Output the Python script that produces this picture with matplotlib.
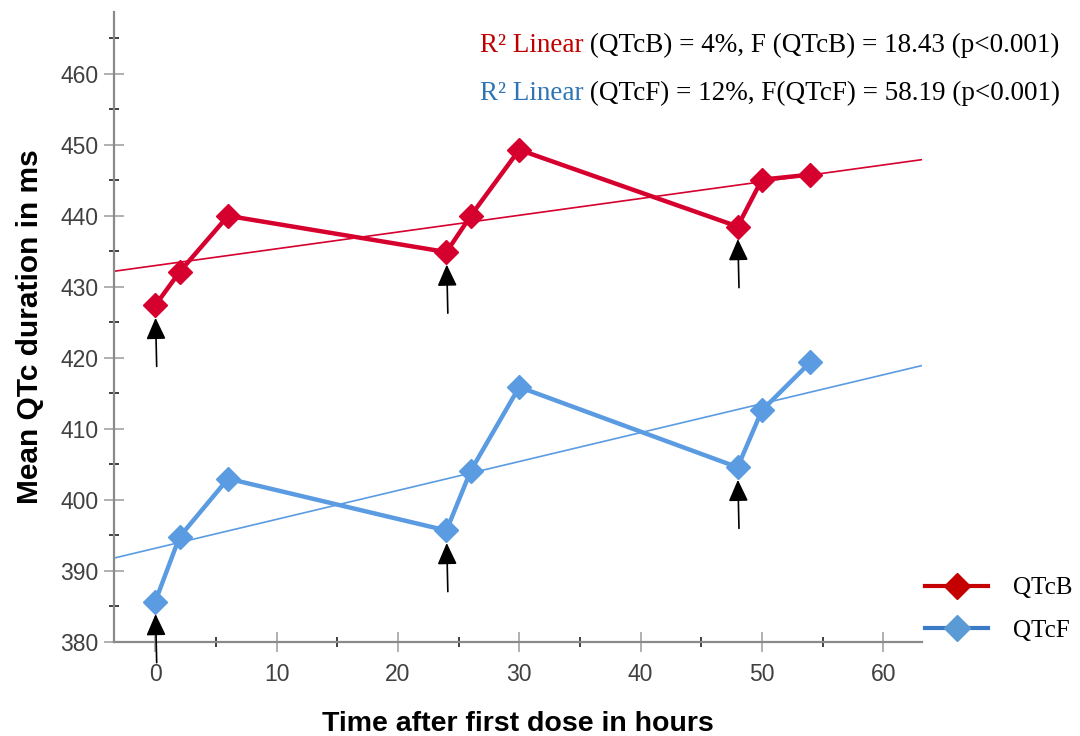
import matplotlib.pyplot as plt
from matplotlib.lines import Line2D
from matplotlib.ticker import MultipleLocator

# data
hours = [0, 2, 6, 24, 26, 30, 48, 50, 54]
qtcb = [427.4, 432.1, 440.0, 434.9, 440.0, 449.3, 438.5, 445.1, 445.8]
qtcf = [385.7, 394.8, 403.0, 395.7, 404.1, 415.9, 404.6, 412.6, 419.4]

# linear fit lines (intercept, slope)
fit_b = (433.0, 0.236)
fit_f = (393.2, 0.407)

arrow_hours = [0, 24, 48]

red = '#D6002F'
blue = '#5A9BE2'

plt.rcParams['font.family'] = ['Liberation Sans', 'DejaVu Sans']

fig = plt.figure(figsize=(10.8, 7.36), dpi=100)
ax = fig.add_axes([0.1056, 0.1277, 0.7481, 0.8560])

xlim = (-3.4, 63.2)
ax.set_xlim(*xlim)
ax.set_ylim(380, 468.7)

# fit lines
for (b0, b1), c in [(fit_b, red), (fit_f, blue)]:
    ax.plot(list(xlim), [b0 + b1 * xlim[0], b0 + b1 * xlim[1]], color=c, lw=1.2, zorder=2)

# series
ax.plot(hours, qtcb, color=red, lw=3.2, marker='D', ms=12.5, zorder=3, clip_on=False)
ax.plot(hours, qtcf, color=blue, lw=3.2, marker='D', ms=12.5, zorder=3, clip_on=False)

# arrows under the dosing points
for series in (qtcb, qtcf):
    for h in arrow_hours:
        y = series[hours.index(h)]
        ax.annotate('', xy=(h, y), xytext=(1, -44), textcoords='offset points',
                    arrowprops=dict(arrowstyle='-|>,head_length=1.1,head_width=0.5',
                                    color='black', lw=1.2, shrinkA=0, shrinkB=9,
                                    mutation_scale=12),
                    annotation_clip=False, zorder=4)

# axes styling
for s in ('top', 'right'):
    ax.spines[s].set_visible(False)
for s in ('left', 'bottom'):
    ax.spines[s].set_color('#8a8a8a')
    ax.spines[s].set_linewidth(1.6)

ax.xaxis.set_minor_locator(MultipleLocator(5))
ax.yaxis.set_minor_locator(MultipleLocator(5))
ax.set_xticks(range(0, 61, 10))
ax.set_yticks(range(380, 461, 10))
ax.tick_params(which='major', direction='inout', length=14, width=1.4, color='#b0b0b0',
               labelsize=16.5, labelcolor='#404040')
ax.tick_params(axis='x', which='major', pad=8)
ax.tick_params(axis='y', which='major', pad=4)
ax.tick_params(which='minor', direction='inout', length=7, width=1.4, color='#404040')

ax.set_ylabel('Mean QTc duration in ms', fontsize=21.5, fontweight='bold', labelpad=12)
ax.set_xlabel('Time after first dose in hours', fontsize=20.5, fontweight='bold', labelpad=18)

# R² annotations (mixed colours)
serif = ['Liberation Serif', 'DejaVu Serif']
lines = [('R² Linear', '#C00000', ' (QTcB) = 4%, F (QTcB) = 18.43 (p<0.001)', 0.921),
         ('R² Linear', '#2E75B6', ' (QTcF) = 12%, F(QTcF) = 58.19 (p<0.001)', 0.856)]
for head, col, rest, yy in lines:
    t = fig.text(0.444, yy, head, color=col, fontsize=19.5, family=serif, va='bottom')
    ax.annotate(rest, xy=(1, 0), xycoords=t, va='bottom', ha='left',
                fontsize=19.5, family=serif, color='black')

# legend
handles = [Line2D([], [], color='#C40000', lw=3, marker='D', ms=13, markerfacecolor='#C40000'),
           Line2D([], [], color='#3A7BC8', lw=3, marker='D', ms=13, markerfacecolor='#5B9BD5',
                  markeredgecolor='#5B9BD5')]
fig.legend(handles, ['QTcB', 'QTcF'], loc='center left', bbox_to_anchor=(0.836, 0.172),
           frameon=False, handlelength=2.5, prop={'family': serif, 'size': 18},
           labelspacing=0.8, handletextpad=1.0)

fig.savefig('out.png', dpi=100)
